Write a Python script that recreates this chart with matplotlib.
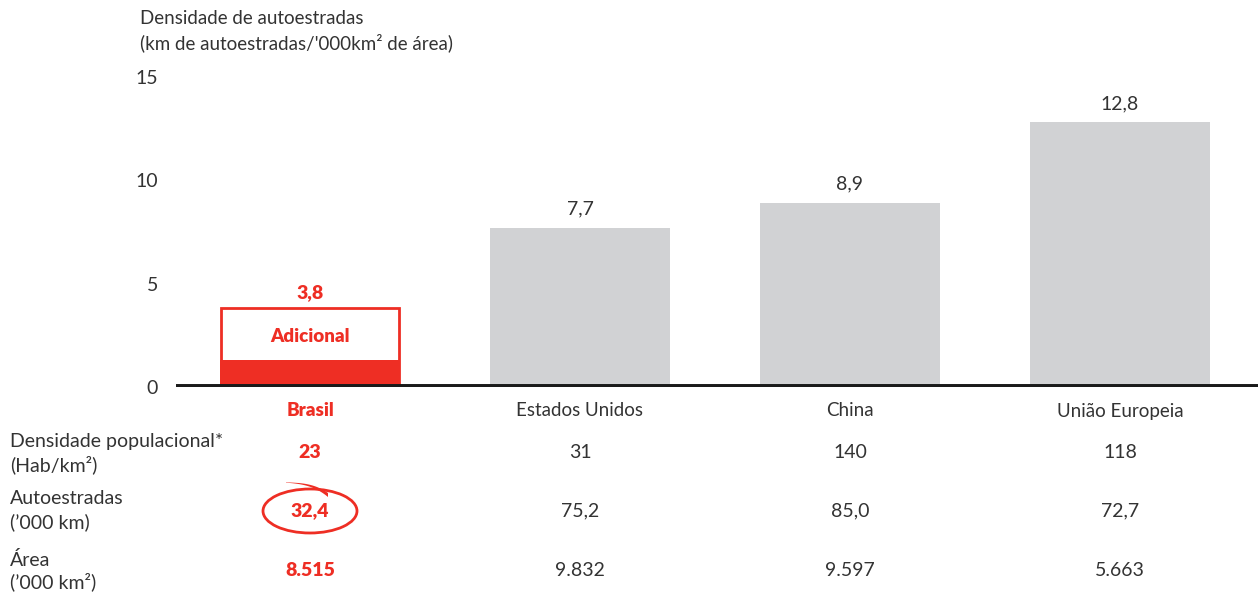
import matplotlib
matplotlib.use("Agg")
import matplotlib.pyplot as plt
from matplotlib.patches import Ellipse, Polygon, Rectangle
import numpy as np

plt.rcParams['font.family'] = ['Lato', 'DejaVu Sans']

paises = ['Brasil', 'Estados Unidos', 'China', 'União Europeia']
densidade_rod = [3.8, 7.7, 8.9, 12.8]
brasil_base = 1.3          # parcela preenchida da barra do Brasil
dens_pop = ['23', '31', '140', '118']
autoestradas = ['32,4', '75,2', '85,0', '72,7']
area = ['8.515', '9.832', '9.597', '5.663']
linhas = [('Densidade populacional*', '(Hab/km²)'),
          ('Autoestradas', '(’000 km)'),
          ('Área', '(’000 km²)')]

VERMELHO = '#ee2e24'
CINZA = '#d1d2d4'
TEXTO = '#333333'

W, H = 1258, 592
fig = plt.figure(figsize=(W / 100, H / 100), dpi=100)

# eixo: x de 176px até a borda, y=0 em 387px e y=15 em 77px
ax = fig.add_axes([176 / W, (H - 387) / H, (W - 176) / W, 310 / H])
ax.set_xlim(-0.496, 3.511)
ax.set_ylim(0, 15)

x = np.arange(len(paises))
larg = 0.667
ax.bar(x[1:], densidade_rod[1:], width=larg, color=CINZA, zorder=2)

# Brasil: base preenchida + contorno até o total
ax.bar(x[0], brasil_base, width=larg, color=VERMELHO, zorder=3)
ax.add_patch(Rectangle((x[0] - larg / 2 + 0.005, 0), larg - 0.01, densidade_rod[0],
                       fill=False, edgecolor=VERMELHO, lw=2, zorder=3))
ax.text(x[0], (brasil_base + densidade_rod[0]) / 2 - 0.1, 'Adicional', ha='center', va='center',
        color=VERMELHO, fontsize=13.5, fontweight='heavy')

for i, v in enumerate(densidade_rod):
    cor = VERMELHO if i == 0 else TEXTO
    peso = 'heavy' if i == 0 else 'normal'
    desl = 0.35 if i == 0 else 0.5
    ax.text(x[i], v + desl, f'{v:.1f}'.replace('.', ','), ha='center', va='bottom',
            color=cor, fontsize=14, fontweight=peso)

ax.axhline(0, color='#1a1a1a', lw=5, zorder=4)
for s in ax.spines.values():
    s.set_visible(False)
ax.set_xticks([])
ax.set_yticks([0, 5, 10, 15])
ax.tick_params(axis='y', length=0, pad=13, labelsize=14, labelcolor=TEXTO)

fig.text(140 / W, 1 - 18 / H, 'Densidade de autoestradas', fontsize=13.5, color=TEXTO, va='center')
fig.text(140 / W, 1 - 43 / H, "(km de autoestradas/'000km² de área)", fontsize=13.5, color=TEXTO,
         va='center')

# rótulos das categorias
for i, p in enumerate(paises):
    fx = (310 + 270 * i) / W
    if i == 0:
        fig.text(fx, 1 - 411 / H, p, ha='center', va='center', fontsize=13.5,
                 color=VERMELHO, fontweight='heavy')
    else:
        fig.text(fx, 1 - 411 / H, p, ha='center', va='center', fontsize=13.5, color=TEXTO)

# tabela abaixo do gráfico
linhas_y = [(441, 465, 453), (498, 522, 511), (560, 582, 571)]
valores = [dens_pop, autoestradas, area]
for (t1, t2), (y1, y2, yv), vals in zip(linhas, linhas_y, valores):
    fig.text(10 / W, 1 - y1 / H, t1, fontsize=14, color=TEXTO, va='center')
    fig.text(10 / W, 1 - y2 / H, t2, fontsize=14, color=TEXTO, va='center')
    for i, v in enumerate(vals):
        fx = (310 + 270 * i) / W
        if i == 0:
            fig.text(fx, 1 - yv / H, v, ha='center', va='center', fontsize=14,
                     color=VERMELHO, fontweight='heavy')
        else:
            fig.text(fx, 1 - yv / H, v, ha='center', va='center', fontsize=14, color=TEXTO)

# destaque à mão em volta de 32,4
fig.add_artist(Ellipse((310 / W, 1 - 511 / H), 94 / W, 44 / H, transform=fig.transFigure,
                       fill=False, edgecolor=VERMELHO, lw=2))
t = np.linspace(0, 1, 30)
px = 286 + 42 * t
py = 482.5 + 2.5 * t + 10 * t ** 3
esp = 0.4 + 3.6 * t ** 1.5
pts = [(a / W, 1 - (b - e / 2) / H) for a, b, e in zip(px, py, esp)] + \
      [(a / W, 1 - (b + e / 2) / H) for a, b, e in zip(px[::-1], py[::-1], esp[::-1])]
fig.add_artist(Polygon(pts, closed=True, transform=fig.transFigure, color=VERMELHO, lw=0))

fig.savefig('out.png', dpi=100)
